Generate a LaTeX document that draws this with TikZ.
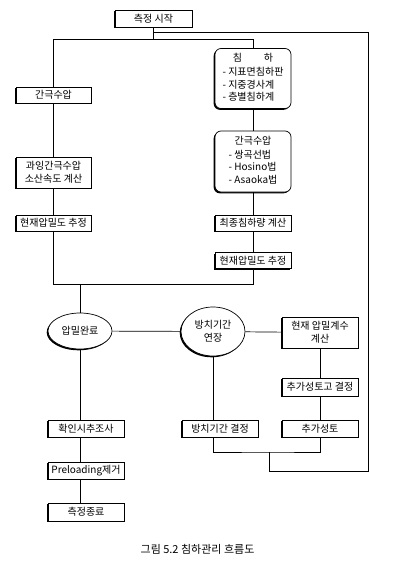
\documentclass[tikz,border=0pt]{standalone}
\usepackage{fontspec}
\setmainfont{Noto Sans CJK KR}
\usepackage{tikz}
\usetikzlibrary{shapes.geometric,shadows}

\begin{document}
\begin{tikzpicture}[x=1pt,y=-1pt,
  box/.style={draw,fill=white,line width=0.7pt,minimum width=76pt,minimum height=17pt,inner xsep=1pt,inner ysep=1pt,font=\fontsize{10}{13}\selectfont,drop shadow={shadow xshift=-1.3pt,shadow yshift=-1.3pt,opacity=1,fill=black}},
  rbox/.style={box,rounded corners=6pt,minimum height=60pt},
  oval/.style={box,ellipse,minimum width=64pt,inner sep=0pt},
  link/.style={line width=0.7pt}]
\useasboundingbox (0,0) rectangle (400,583);
% upper part
\node[box,minimum width=77pt] (start) at (153.5,18.5) {측정 시작};
\node[box,minimum width=75pt,minimum height=16pt] (gan1) at (53.5,95) {간극수압};
\node[rbox,font=\fontsize{10}{12.5}\selectfont] (chim) at (253,78.5) {\begin{tabular}{@{}l@{}}\multicolumn{1}{@{}c@{}}{침\hspace{2.2em}하}\\[2pt]- 지표면침하판\\- 지중경사계\\- 층별침하계\end{tabular}};
\node[rbox,minimum height=61pt,font=\fontsize{10}{12.5}\selectfont] (gan2) at (253,161.5) {\begin{tabular}{@{}l@{}}\multicolumn{1}{@{}c@{}}{간극수압}\\[1pt]- 쌍곡선법\\- Hosino법\\- Asaoka법\end{tabular}};
\node[box,minimum width=75pt,minimum height=31pt,align=center] (gwaing) at (53.5,172.5) {과잉간극수압\\소산속도 계산};
\node[box,minimum width=75pt,minimum height=16pt] (hyeon1) at (53.5,223) {현재압밀도 추정};
\node[box,minimum height=16pt] (choejong) at (253,223) {최종침하량 계산};
\node[box,minimum height=16pt] (hyeon2) at (253,260.5) {현재압밀도 추정};
\coordinate (split) at (153.5,39);
\coordinate (topR) at (368,32);
\coordinate (merge) at (80,284);
% middle part
\node[oval,minimum height=36pt] (wanryo) at (80,331) {압밀완료};
\node[oval,minimum height=49pt,align=center] (bangyeon) at (213,331.5) {방치기간\\연장};
\node[box,minimum height=31pt,align=center] (gyesu) at (320,332.5) {현재 압밀계수\\계산};
\node[box,minimum height=18pt] (seongtogo) at (320,387) {추가성토고 결정};
% lower part
\node[box] (hwagin) at (86,428.5) {확인시추조사};
\node[box] (preload) at (86,470.5) {Preloading제거};
\node[box,minimum height=18pt] (jongryo) at (86,512) {측정종료};
\node[box] (bangb) at (220,428.5) {방치기간 결정};
\node[box] (chuga) at (320,428.5) {추가성토};
\coordinate (retR) at (368,471);
\coordinate (joinB) at (269,452);
\node[font=\fontsize{11}{13}\selectfont] (caption) at (197.5,549) {그림 5.2 침하관리 흐름도};
% connectors
\begin{scope}[link]
\draw (start) -- (split);
\draw (split) -| (gan1.north);
\draw (split) -| (chim.north);
\draw (start.south) |- (topR);
\draw (topR) -- (retR) -| (joinB);
\draw (gan1) -- (gwaing);
\draw (gwaing) -- (hyeon1);
\draw (chim) -- (gan2);
\draw (gan2) -- (choejong);
\draw (choejong) -- (hyeon2);
\draw (hyeon1.south) |- (merge);
\draw (hyeon2.south) |- (merge);
\draw (merge) -- (wanryo.north);
\draw (wanryo) -- (bangyeon);
\draw (bangyeon) -- (gyesu);
\draw (gyesu) -- (seongtogo);
\draw (seongtogo) -- (chuga);
\draw (wanryo.south) -- (wanryo.south |- hwagin.north);
\draw (hwagin.south -| wanryo) -- (preload.north -| wanryo);
\draw (preload.south -| wanryo) -- (jongryo.north -| wanryo);
\draw (bangyeon.south) -- (bangyeon.south |- bangb.north);
\draw (bangyeon.south |- bangb.south) |- (joinB) -| (chuga.south);
\end{scope}
\end{tikzpicture}
\end{document}
